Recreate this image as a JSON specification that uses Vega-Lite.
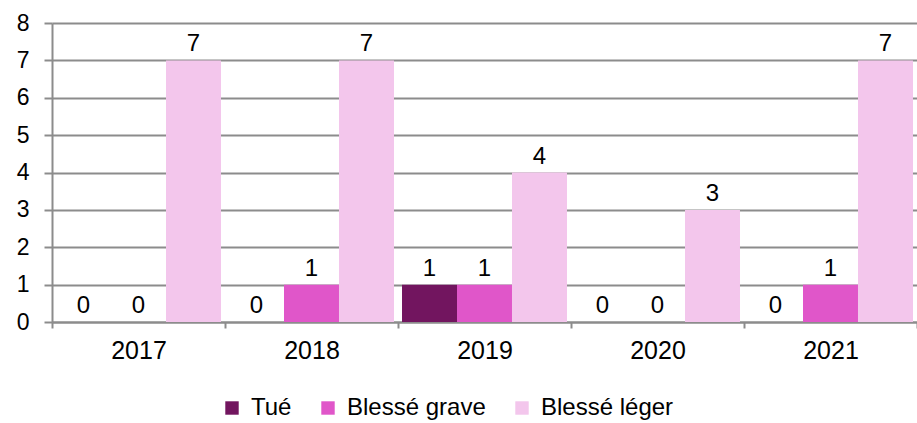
{
  "$schema": "https://vega.github.io/schema/vega-lite/v6.json",
  "width": 865,
  "height": 299,
  "autosize": {"type": "none"},
  "padding": {"left": 52, "top": 23, "right": 0, "bottom": 101},
  "background": "white",
  "config": {
    "font": "Liberation Sans",
    "view": {"stroke": null}
  },
  "data": {
    "values": [
      {"annee": "2017", "type": "Tué", "valeur": 0},
      {"annee": "2017", "type": "Blessé grave", "valeur": 0},
      {"annee": "2017", "type": "Blessé léger", "valeur": 7},
      {"annee": "2018", "type": "Tué", "valeur": 0},
      {"annee": "2018", "type": "Blessé grave", "valeur": 1},
      {"annee": "2018", "type": "Blessé léger", "valeur": 7},
      {"annee": "2019", "type": "Tué", "valeur": 1},
      {"annee": "2019", "type": "Blessé grave", "valeur": 1},
      {"annee": "2019", "type": "Blessé léger", "valeur": 4},
      {"annee": "2020", "type": "Tué", "valeur": 0},
      {"annee": "2020", "type": "Blessé grave", "valeur": 0},
      {"annee": "2020", "type": "Blessé léger", "valeur": 3},
      {"annee": "2021", "type": "Tué", "valeur": 0},
      {"annee": "2021", "type": "Blessé grave", "valeur": 1},
      {"annee": "2021", "type": "Blessé léger", "valeur": 7}
    ]
  },
  "encoding": {
    "x": {
      "field": "annee", "type": "nominal",
      "scale": {"paddingInner": 0, "paddingOuter": 0},
      "axis": {
        "title": null, "labelAngle": 0, "labelFontSize": 25, "labelColor": "#000000",
        "labelPadding": 10, "domainColor": "#8c8c8c", "domainWidth": 2,
        "tickColor": "#8c8c8c", "tickWidth": 2, "tickSize": 6, "tickBand": "extent",
        "grid": false
      }
    },
    "xOffset": {
      "field": "type", "type": "nominal",
      "sort": ["Tué", "Blessé grave", "Blessé léger"],
      "scale": {"paddingInner": 0, "paddingOuter": 0.073}
    },
    "y": {
      "field": "valeur", "type": "quantitative",
      "scale": {"domain": [0, 8], "nice": false},
      "axis": {
        "title": null, "values": [0,1,2,3,4,5,6,7,8], "labelOverlap": false,
        "labelFontSize": 23, "labelColor": "#000000", "labelPadding": 15,
        "domainColor": "#8c8c8c", "domainWidth": 2,
        "tickColor": "#8c8c8c", "tickWidth": 2, "tickSize": 8,
        "gridColor": "#8c8c8c", "gridWidth": 2, "gridOpacity": 1
      }
    }
  },
  "layer": [
    {
      "mark": {"type": "bar"},
      "encoding": {
        "color": {
          "field": "type", "type": "nominal",
          "sort": ["Tué", "Blessé grave", "Blessé léger"],
          "scale": {"domain": ["Tué", "Blessé grave", "Blessé léger"], "range": ["#72155f", "#e056c9", "#f3c6ec"]},
          "legend": {
            "title": null, "orient": "none", "direction": "horizontal",
            "legendX": 168, "legendY": 373,
            "symbolType": "square", "symbolSize": 180, "symbolStrokeWidth": 0,
            "labelFontSize": 24, "labelColor": "#000000", "labelOffset": 7,
            "columnPadding": 24
          }
        }
      }
    },
    {
      "mark": {"type": "text", "fontSize": 24, "color": "#000000", "baseline": "bottom", "dy": -4},
      "encoding": {
        "text": {"field": "valeur", "type": "quantitative"}
      }
    }
  ]
}
